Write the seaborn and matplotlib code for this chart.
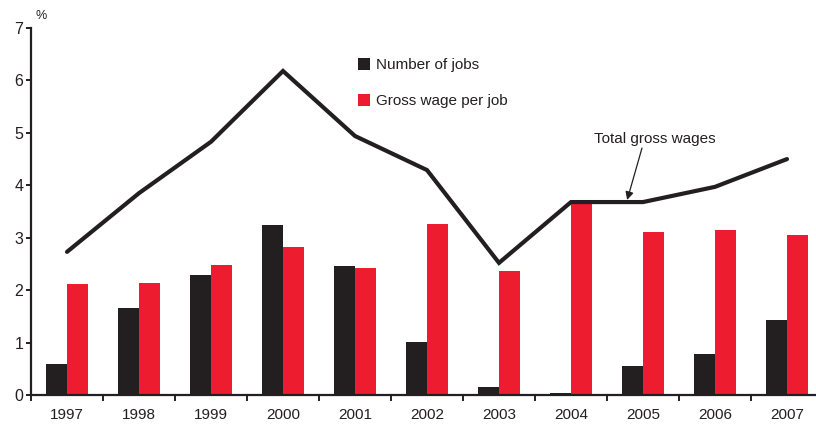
import numpy as np
import pandas as pd
import matplotlib
matplotlib.use("Agg")
import matplotlib.pyplot as plt
import seaborn as sns

years = ["1997", "1998", "1999", "2000", "2001", "2002", "2003", "2004", "2005", "2006", "2007"]
number_of_jobs = [0.59, 1.65, 2.29, 3.24, 2.46, 1.01, 0.15, 0.04, 0.55, 0.78, 1.43]
gross_wage_per_job = [2.12, 2.14, 2.48, 2.82, 2.42, 3.26, 2.37, 3.64, 3.11, 3.15, 3.05]
total_gross_wages = [2.73, 3.85, 4.83, 6.18, 4.94, 4.29, 2.52, 3.68, 3.68, 3.97, 4.50]
series_names = ["Number of jobs", "Gross wage per job"]
line_name = "Total gross wages"

BLACK = "#231f20"
RED = "#ed1c2e"

sns.set_style("white")
plt.rcParams["font.family"] = ["Liberation Sans", "DejaVu Sans"]

df = pd.DataFrame({
    "year": years * 2,
    "value": number_of_jobs + gross_wage_per_job,
    "series": [series_names[0]] * len(years) + [series_names[1]] * len(years),
})

fig = plt.figure(figsize=(8.16, 4.28), dpi=100)
ax = fig.add_axes([31 / 816, 33 / 428, (823 - 31) / 816, (395 - 28) / 428])

sns.barplot(data=df, x="year", y="value", hue="series", order=years,
            hue_order=series_names, palette=[BLACK, RED], width=0.583,
            saturation=1, ax=ax, errorbar=None, gap=0, linewidth=0,
            edgecolor="none")

sns.lineplot(x=np.arange(len(years)), y=total_gross_wages, color=BLACK,
             linewidth=3.0, ax=ax, legend=False, solid_joinstyle="miter")

ax.set_xlim(-0.5, len(years) - 0.5)
ax.set_ylim(0, 7)
ax.set_yticks(range(0, 8))
ax.set_xlabel("")
ax.set_ylabel("")

for s in ["top", "right"]:
    ax.spines[s].set_visible(False)
for s in ["left", "bottom"]:
    ax.spines[s].set_linewidth(1.6)
    ax.spines[s].set_color(BLACK)

ax.tick_params(axis="y", which="major", direction="out", length=3.5, width=1.4,
               color=BLACK, labelsize=11.5, pad=2, labelcolor=BLACK, left=True)
ax.set_xticks(np.arange(len(years)))
ax.set_xticklabels(years)
ax.tick_params(axis="x", which="major", length=0, labelsize=11, pad=9.5, labelcolor=BLACK)
ax.set_xticks(np.arange(len(years) + 1) - 0.5, minor=True)
ax.tick_params(axis="x", which="minor", direction="out", length=4.5, width=1.4,
               color=BLACK, bottom=True)

# Legend
leg = ax.legend(loc="upper left", bbox_to_anchor=(358 / 816, 1 - 58 / 428),
                bbox_transform=fig.transFigure, frameon=False, fontsize=11,
                handlelength=0.8, handleheight=0.8, handletextpad=0.35,
                labelspacing=1.45, borderpad=0, borderaxespad=0)
for t in leg.get_texts():
    t.set_color(BLACK)

# Annotation
ax.text(8.167, 4.88, line_name, ha="center", va="center", fontsize=11, color=BLACK)
ax.annotate("", xy=(7.78, 3.72), xytext=(7.986, 4.71),
            arrowprops=dict(arrowstyle="-|>", color=BLACK, lw=0.9,
                            mutation_scale=12, shrinkA=0, shrinkB=0))

fig.text(36 / 816, 1 - 16 / 428, "%", fontsize=9, color=BLACK, ha="left", va="center")

fig.savefig("out.png", dpi=100)
